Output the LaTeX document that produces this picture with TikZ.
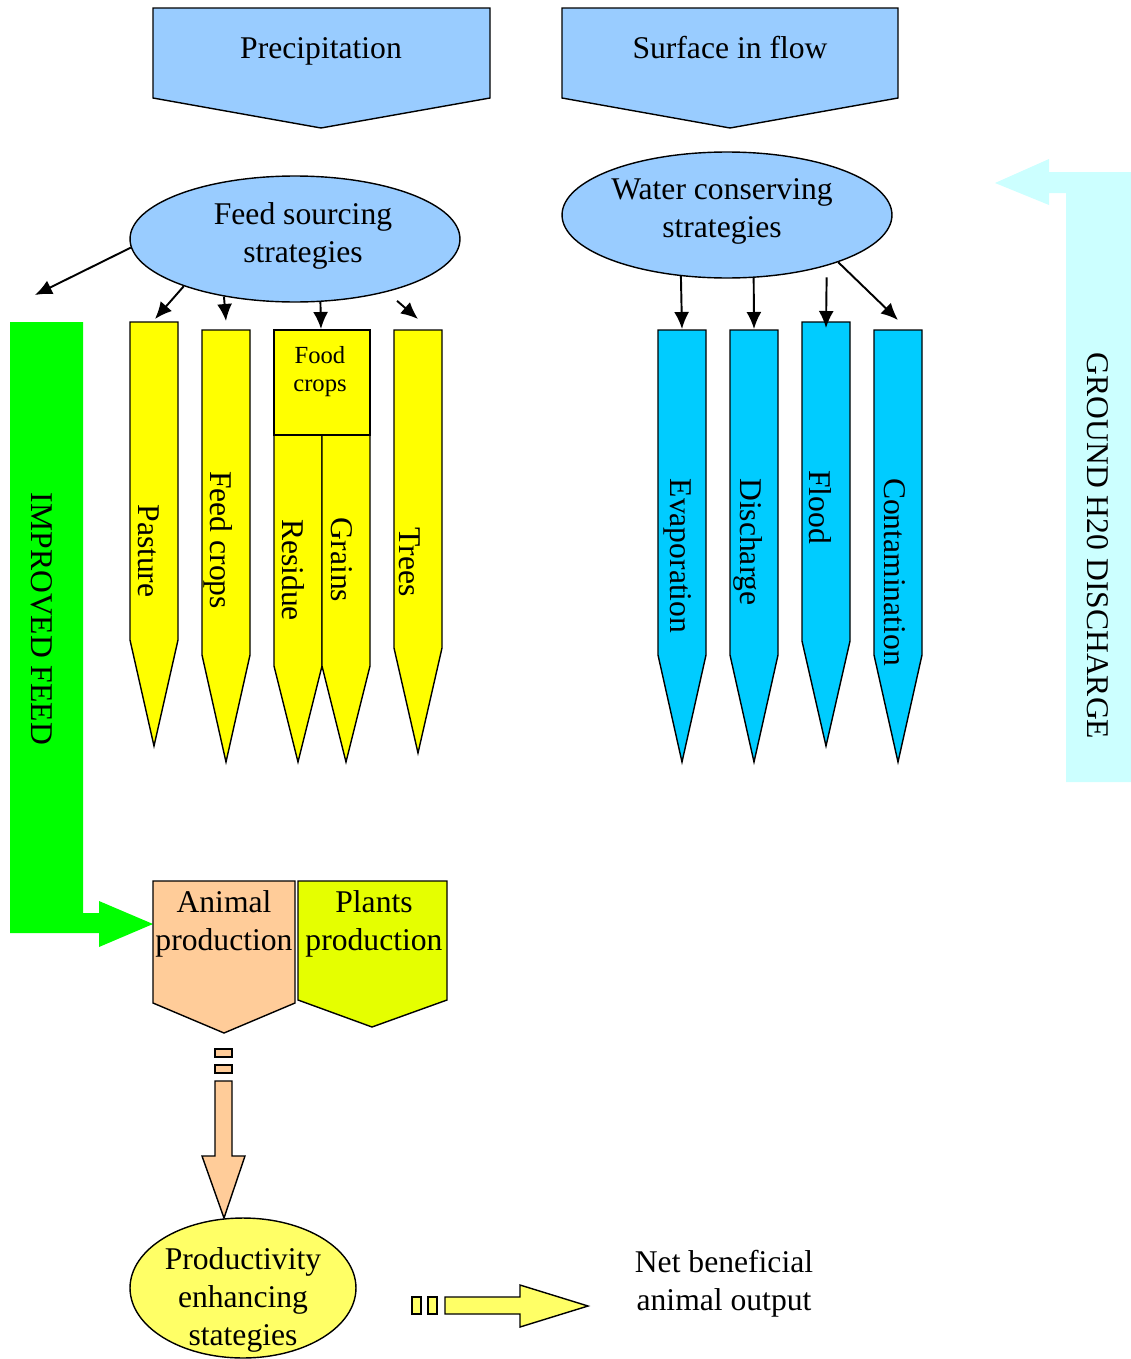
\documentclass[tikz,border=0pt]{standalone}
\usepackage{fontspec}
\setmainfont{Liberation Serif}
\usetikzlibrary{shapes, arrows}
\usetikzlibrary{arrows.meta,calc}
\usetikzlibrary{positioning}

\begin{document}
\begin{tikzpicture}[x=0.02cm,y=-0.02cm]

		    \definecolor{skyblue}{HTML}{99CCFF}
		    \definecolor{pencilyel}{HTML}{FFFF00}
		    \definecolor{watercol}{HTML}{00CCFF}
		    \definecolor{animalcol}{HTML}{FFCC99}
		    \definecolor{plantcol}{HTML}{E5FF00}
		    \definecolor{lightyel}{HTML}{FFFF66}
		    \definecolor{groundcol}{HTML}{CCFFFF}
		    \tikzset{box/.style={draw,line width=0.8pt,line join=miter},
		             basetxt/.style={font=\fontsize{18pt}{21.6pt}\selectfont,align=center,inner sep=0},
		             txt/.style={basetxt,yshift=-0.6mm},
		             vtxt/.style={basetxt,rotate=-90},
		             arr/.style={-{Latex[length=3.4mm,width=3mm]},line width=1.1pt}}
		    \useasboundingbox (0,0) rectangle (1131,1359);

		    % top chevrons
		    \draw[box,fill=skyblue] (153,8) -- (490,8) -- (490,98) -- (321,128) -- (153,98) -- cycle;
		    \node(precip) [txt] at (321,48) {Precipitation};
		    \draw[box,fill=skyblue] (562,8) -- (898,8) -- (898,98) -- (730,128) -- (562,98) -- cycle;
		    \node(surface) [txt] at (730,45) {Surface in flow};

		    % strategies
		    \node(feed) [ellipse,box,fill=skyblue,minimum width=6.6cm,minimum height=2.52cm,inner sep=0] at (295,239) {};
		    \node[txt] at (303,233) {Feed sourcing\\strategies};
		    \node(water) [ellipse,box,fill=skyblue,minimum width=6.6cm,minimum height=2.52cm,inner sep=0] at (727,215) {};
		    \node[txt] at (722,208) {Water conserving\\strategies};

		    % feed pencils
		    \draw[box,fill=pencilyel] (130,322) -- (178,322) -- (178,640) -- (154,746) -- (130,640) -- cycle;
		    \draw[box,fill=pencilyel] (202,330) -- (250,330) -- (250,655) -- (226,762) -- (202,655) -- cycle;
		    \draw[box,fill=pencilyel] (274,435) -- (322,435) -- (322,666) -- (298,762) -- (274,666) -- cycle;
		    \draw[box,fill=pencilyel] (322,435) -- (370,435) -- (370,666) -- (346,762) -- (322,666) -- cycle;
		    \draw[box,fill=pencilyel] (274,330) rectangle (370,435);
		    \draw[box,fill=pencilyel] (394,330) -- (442,330) -- (442,648) -- (418,753) -- (394,648) -- cycle;
		    \node(pasture) [vtxt] at (149,551) {Pasture};
		    \node(feedcrops) [vtxt] at (218,540) {Feed crops};
		    \node(foodcrops) [txt,font=\fontsize{14pt}{16pt}\selectfont] at (320,369) {Food\\crops};
		    \node(residue) [vtxt] at (293,570) {Residue};
		    \node(grains) [vtxt] at (342,560) {Grains};
		    \node(trees) [vtxt] at (410,562) {Trees};
		    \coordinate (pastop) at (155,319);
		    \coordinate (fctop) at (226,321);
		    \coordinate (foodtop) at (321,329);
		    \coordinate (treetop) at (418,319);
		    \coordinate (leftend) at (35,295);

		    % water pencils
		    \draw[box,fill=watercol] (658,330) -- (706,330) -- (706,655) -- (682,762) -- (658,655) -- cycle;
		    \draw[box,fill=watercol] (730,330) -- (778,330) -- (778,655) -- (754,762) -- (730,655) -- cycle;
		    \draw[box,fill=watercol] (802,322) -- (850,322) -- (850,641) -- (826,746) -- (802,641) -- cycle;
		    \draw[box,fill=watercol] (874,330) -- (922,330) -- (922,655) -- (898,762) -- (874,655) -- cycle;
		    \node(evap) [vtxt] at (678,556) {Evaporation};
		    \node(discharge) [vtxt] at (748,542) {Discharge};
		    \node(flood) [vtxt] at (820,507) {Flood};
		    \node(contam) [vtxt] at (895,572) {Contamination};
		    \coordinate (evaptop) at (682,329);
		    \coordinate (distop) at (754,329);
		    \coordinate (floodtop) at (826,328);
		    \coordinate (contop) at (898,320);

		    \draw[arr] (feed.183) -- (leftend);
		    \draw[arr] (feed.203.6) -- (pastop);
		    \draw[arr] (feed.219.7) -- (fctop);
		    \draw[arr] (feed.292.7) -- (foodtop);
		    \draw[arr,shorten <=7\pgflinewidth] (feed.330.3) -- (treetop);
		    \draw[arr] (water.233.4) -- (evaptop);
		    \draw[arr] (water.293.5) -- (distop);
		    \draw[arr,shorten <=6\pgflinewidth] (water.333) -- (floodtop);
		    \draw[arr] (water.337.4) -- (contop);

		    % side arrows
		    \fill[green] (10,322) -- (83,322) -- (83,913) -- (99,913) -- (99,901) -- (153,924) -- (99,947) -- (99,933) -- (10,933) -- cycle;
		    \node(improved) [vtxt] at (42,619) {IMPROVED FEED};
		    \fill[groundcol] (1131,172) -- (1131,782) -- (1066,782) -- (1066,193) -- (1049,193) -- (1049,205) -- (995,183) -- (1049,159) -- (1049,172) -- cycle;
		    \node(ground) [vtxt] at (1098,546) {GROUND H20 DISCHARGE};

		    % production
		    \draw[box,fill=animalcol] (153,881) -- (295,881) -- (295,1003) -- (224,1033) -- (153,1003) -- cycle;
		    \node(animal) [txt] at (224,921) {Animal\\production};
		    \draw[box,fill=plantcol] (298,881) -- (447,881) -- (447,1000) -- (372,1027) -- (298,1000) -- cycle;
		    \node(plants) [txt] at (374,921) {Plants\\production};

		    \draw[box,fill=animalcol] (215,1049) rectangle (232,1057);
		    \draw[box,fill=animalcol] (215,1065) rectangle (232,1073);
		    \draw[box,fill=animalcol] (215,1081) -- (232,1081) -- (232,1156) -- (245,1156) -- (224,1218) -- (202,1156) -- (215,1156) -- cycle;

		    \node(product) [ellipse,box,fill=lightyel,minimum width=4.52cm,minimum height=2.8cm,inner sep=0] at (243,1288) {};
		    \node[txt] at (243,1297) {Productivity\\enhancing\\stategies};

		    \draw[box,fill=lightyel] (412,1297) rectangle (421,1314);
		    \draw[box,fill=lightyel] (428,1297) rectangle (437,1314);
		    \draw[box,fill=lightyel] (445,1297) -- (520,1297) -- (520,1285) -- (588,1306) -- (520,1327) -- (520,1314) -- (445,1314) -- cycle;
		    \node(netout) [txt] at (724,1281) {Net beneficial\\animal output};

\end{tikzpicture}
\end{document}
